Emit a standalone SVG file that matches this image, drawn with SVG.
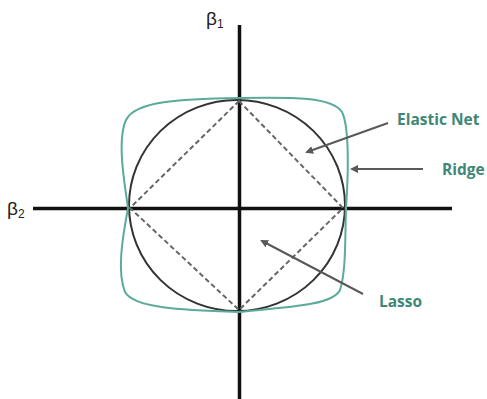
<svg xmlns="http://www.w3.org/2000/svg" width="487" height="399" viewBox="0 0 487 399">
<defs>
<marker id="ah" markerWidth="8" markerHeight="8" refX="6" refY="4" orient="auto" markerUnits="userSpaceOnUse" viewBox="0 0 8 8">
<path d="M0,0 L8,4 L0,8 Z" fill="#595959"/>
</marker>
<style>
.axis{stroke:#111;stroke-width:3.5;fill:none}
.beta{font-family:"Liberation Sans","DejaVu Sans",sans-serif;fill:#222;font-size:19px}
.sub{font-size:12px}
.lbl{font-family:"Open Sans","Liberation Sans",sans-serif;font-weight:bold;fill:#3f8777;font-size:15.5px}
.arr{stroke:#595959;stroke-width:2;fill:none;marker-end:url(#ah)}
</style>
</defs>
<rect width="487" height="399" fill="#fff"/>
<g id="axes">
<line class="axis" x1="239.5" y1="25" x2="239.5" y2="399"/>
<line class="axis" x1="33" y1="208.5" x2="452" y2="208.5"/>
<text class="beta" x="206" y="25">β<tspan class="sub" dy="3">1</tspan></text>
<text class="beta" x="7" y="215">β<tspan class="sub" dy="3">2</tspan></text>
</g>
<g id="ridge-circle">
<ellipse cx="237" cy="205.5" rx="108" ry="105.5" fill="none" stroke="#333" stroke-width="2"/>
</g>
<g id="lasso-diamond">
<path d="M239,101 L343,208 L239,310 L130,208 Z" fill="none" stroke="#666" stroke-width="2" stroke-dasharray="5,3"/>
</g>
<g id="elastic-net">
<path d="M239,98 C295,97 332,97 342,112 C350,128 348,180 346,208 C345,240 346,272 340,290 C333,305 290,307 239,312 C180,310 134,308 125,292 C117,272 122,240 128,208 C124,180 117,140 126,120 C135,101 180,99 239,98 Z" fill="none" stroke="#5aab9b" stroke-width="2"/>
</g>
<g id="connectors">
<line class="arr" x1="388" y1="123" x2="307" y2="152"/>
<line class="arr" x1="423" y1="169" x2="352" y2="169"/>
<line class="arr" x1="363" y1="294" x2="262" y2="241"/>
</g>
<g id="labels">
<text class="lbl" x="397" y="125">Elastic Net</text>
<text class="lbl" x="442" y="175">Ridge</text>
<text class="lbl" x="379" y="307">Lasso</text>
</g>
</svg>
